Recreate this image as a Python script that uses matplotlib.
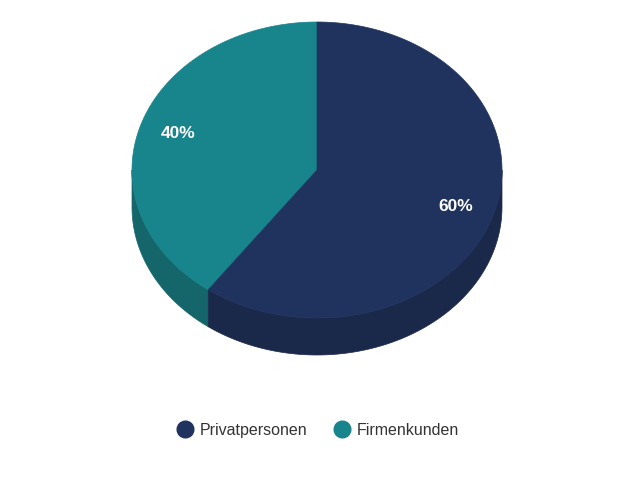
import matplotlib.pyplot as plt
from matplotlib.patches import Polygon
from matplotlib.lines import Line2D
import numpy as np

plt.rcParams['font.family'] = ['Liberation Sans', 'DejaVu Sans']

categories = ['Privatpersonen', 'Firmenkunden']
values = [60, 40]
labels = ['60%', '40%']
top_colors = ['#20335E', '#18848C']
side_colors = ['#1A284A', '#14666B']

# pie geometry in pixels
cx, cy = 317, 170
rx, ry = 185, 148
depth = 37

fig = plt.figure(figsize=(6.4, 4.8), dpi=100)
ax = fig.add_axes([0, 0, 1, 1])
ax.set_xlim(0, 640)
ax.set_ylim(480, 0)
ax.axis('off')


def pt(a, off=0):
    return cx + rx * np.cos(a), cy - ry * np.sin(a) + off


# slices: the last one (Firmenkunden) starts at top going counter-clockwise
total = sum(values)
start = np.pi / 2
angles = {}
for i in [1, 0]:
    span = 2 * np.pi * values[i] / total
    angles[i] = (start, start + span)
    start += span

# sides first (front half only: pi .. 2pi)
for i in [1, 0]:
    a0, a1 = angles[i]
    lo = max(a0, np.pi)
    hi = min(a1, 2 * np.pi)
    if hi <= lo:
        continue
    t = np.linspace(lo, hi, 100)
    xs, ys = pt(t)
    xb, yb = pt(t[::-1], depth)
    poly = np.column_stack([np.concatenate([xs, xb]), np.concatenate([ys, yb])])
    ax.add_patch(Polygon(poly, closed=True, fc=side_colors[i], ec=side_colors[i], lw=0.5))

# top faces
for i in [1, 0]:
    a0, a1 = angles[i]
    t = np.linspace(a0, a1, 200)
    xs, ys = pt(t)
    poly = np.column_stack([np.concatenate([[cx], xs]), np.concatenate([[cy], ys])])
    ax.add_patch(Polygon(poly, closed=True, fc=top_colors[i], ec=top_colors[i], lw=0.5))
    mid = (a0 + a1) / 2
    lx = cx + 0.79 * rx * np.cos(mid)
    ly = cy - 0.8 * ry * np.sin(mid)
    ax.text(lx, ly, labels[i], color='white', fontsize=12.5, fontweight='bold',
            ha='center', va='center')

handles = [Line2D([], [], marker='o', ls='', ms=12, mfc=c, mec=c) for c in top_colors]
ax.legend(handles, categories, loc='center', bbox_to_anchor=(0.496, 0.104),
          ncol=2, frameon=False, fontsize=11.5, handlelength=1.2, handletextpad=0.3,
          columnspacing=1.6, labelcolor='#333333')

fig.savefig('out.png', dpi=100)
